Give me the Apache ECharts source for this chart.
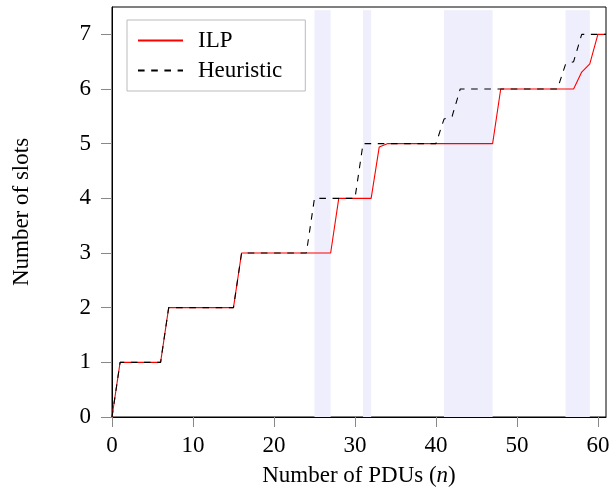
<!DOCTYPE html>
<html>
<head>
<meta charset="utf-8">
<script src="https://cdn.jsdelivr.net/npm/echarts@6/dist/echarts.min.js"></script>
<style>html,body{margin:0;padding:0;background:#fff;}#c{width:613px;height:489px;}</style>
</head>
<body>
<div id="c"></div>
<script>
var ilpX = [0, 1, 6, 7, 15, 16, 27, 28, 32, 33, 34, 47, 48, 57, 58, 59, 60, 61];
var ilpY = [0, 1, 1, 2, 2, 3, 3, 4, 4, 4.94, 5, 5, 6, 6, 6.31, 6.46, 7, 7];
var heurX = [0, 1, 6, 7, 15, 16, 24, 25, 30, 31, 40, 41, 42, 43, 55, 56, 57, 58, 61];
var heurY = [0, 1, 1, 2, 2, 3, 3, 4, 4, 5, 5, 5.45, 5.5, 6, 6, 6.45, 6.5, 7, 7];
var shadeRanges = [[25, 27], [31, 32], [41, 47], [56, 59]];
var xTicks = [0, 10, 20, 30, 40, 50, 60];
var yTicks = [0, 1, 2, 3, 4, 5, 6, 7];

function pairs(xs, ys) { return xs.map(function (x, i) { return [x, ys[i]]; }); }

var FONT = 'Liberation Serif';
var FS = 23;
var chart = echarts.init(document.getElementById('c'), null, { renderer: 'canvas' });
chart.setOption({
  animation: false,
  backgroundColor: '#fff',
  grid: { left: 112, right: 7, top: 7, bottom: 72, outerBoundsMode: 'none', containLabel: false, show: true, borderColor: '#000', borderWidth: 1, backgroundColor: 'transparent' },
  legend: {
    left: 127, top: 20, orient: 'vertical',
    padding: [9, 23, 9, 10],
    itemGap: 7,
    itemWidth: 45, itemHeight: 14,
    backgroundColor: '#fff', borderColor: '#bbb', borderWidth: 1, borderRadius: 0,
    itemStyle: { opacity: 0, borderWidth: 0 },
    textStyle: { fontFamily: FONT, fontSize: FS, color: '#000', padding: [0, 0, 0, 10] },
    data: ['ILP', 'Heuristic']
  },
  xAxis: {
    type: 'value', min: 0, max: 61, interval: 10,
    name: 'Number of PDUs ({i|n})', nameLocation: 'middle', nameGap: 47,
    nameTextStyle: { fontFamily: FONT, fontSize: FS, color: '#000', rich: { i: { fontFamily: FONT, fontStyle: 'italic', fontSize: FS, color: '#000' } } },
    axisLine: { onZero: false, lineStyle: { color: '#000', width: 1 } },
    axisTick: { show: true, inside: false, length: 10, lineStyle: { color: '#888' }, customValues: xTicks },
    axisLabel: { fontFamily: FONT, fontSize: FS, color: '#000', margin: 17, customValues: xTicks },
    splitLine: { show: false }
  },
  yAxis: {
    type: 'value', min: 0, max: 7.5, interval: 1,
    name: 'Number of slots', nameLocation: 'middle', nameGap: 79,
    nameTextStyle: { fontFamily: FONT, fontSize: FS, color: '#000' },
    axisLine: { onZero: false, lineStyle: { color: '#000', width: 1 } },
    axisTick: { show: true, inside: false, length: 11, lineStyle: { color: '#888' }, customValues: yTicks },
    axisLabel: { fontFamily: FONT, fontSize: FS, color: '#000', margin: 21, customValues: yTicks },
    splitLine: { show: false }
  },
  series: [
    {
      name: 'ILP', type: 'line', data: pairs(ilpX, ilpY), symbol: 'none', z: 3,
      lineStyle: { color: '#ff0000', width: 1.1 }, itemStyle: { color: '#ff0000' },
      markArea: {
        silent: true, z: 1,
        itemStyle: { color: '#eeeefc' },
        data: shadeRanges.map(function (r) { return [{ xAxis: r[0], yAxis: 0 }, { xAxis: r[1], yAxis: 7.44 }]; })
      }
    },
    {
      name: 'Heuristic', type: 'line', data: pairs(heurX, heurY), symbol: 'none', z: 4,
      lineStyle: { color: '#000', width: 1.1, type: [6.6, 6.6] }, itemStyle: { color: '#000' }
    }
  ]
});
</script>
</body>
</html>
